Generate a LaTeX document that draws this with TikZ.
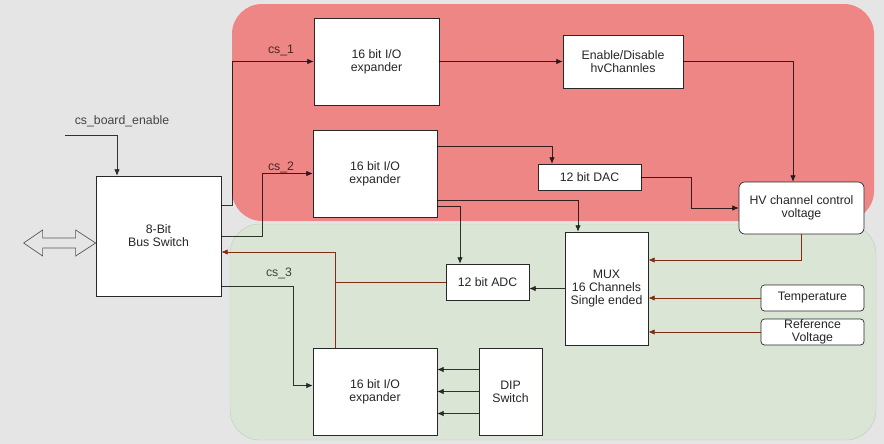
\documentclass[tikz,border=0pt]{standalone}
\usepackage{fontspec}
\setmainfont{Liberation Sans}
\usetikzlibrary{arrows.meta,positioning,calc}
\definecolor{bggray}{RGB}{229,229,229}
\definecolor{hvred}{RGB}{239,134,134}
\definecolor{lvgreen}{RGB}{219,229,214}
\definecolor{lvedge}{RGB}{190,208,184}
\definecolor{rdbrown}{RGB}{128,46,16}
\definecolor{boxedge}{RGB}{40,40,40}
\tikzset{
  blk/.style={draw=boxedge, fill=white, line width=0.6pt, inner sep=0pt, align=center,
              text=black!85, font=\fontsize{10.5}{11}\selectfont},
  wire/.style={-{Latex[length=1.9mm,width=1.6mm]}, black, opacity=0.78, line width=0.5pt},
  rdwire/.style={-{Latex[length=1.9mm,width=1.6mm]}, rdbrown, line width=0.6pt},
  rdline/.style={rdbrown, line width=0.6pt},
  sig/.style={text=black, text opacity=0.7, font=\fontsize{10.5}{11}\selectfont},
}

\begin{document}
\begin{tikzpicture}[x=0.03cm,y=-0.03cm]
  \fill[bggray] (0,0) rectangle (884,444);
  \useasboundingbox (0,0) rectangle (884,444);
  % supply areas
  \fill[hvred, rounded corners=0.9cm] (232,4) rectangle (874,221);
  \filldraw[fill=lvgreen, draw=lvedge, rounded corners=0.9cm] (230,224) rectangle (876,440);

  % blocks
  \node[blk, minimum width=3.75cm, minimum height=3.6cm] (bus) at (158.5,236) {8-Bit\\Bus Switch};
  \node[blk, minimum width=3.75cm, minimum height=2.61cm] (exp1) at (376.5,61.5) {16 bit I/O\\expander};
  \node[blk, minimum width=3.72cm, minimum height=2.61cm] (exp2) at (375,173.5) {16 bit I/O\\expander};
  \node[blk, minimum width=3.72cm, minimum height=2.61cm] (exp3) at (375,391.5) {16 bit I/O\\expander};
  \node[blk, minimum width=3.6cm, minimum height=1.59cm] (endis) at (623,61.5) {Enable/Disable\\hvChannles};
  \node[blk, minimum width=3.09cm, minimum height=0.78cm] (dac) at (589.5,177) {12 bit DAC};
  \node[blk, rounded corners=5pt, minimum width=3.75cm, minimum height=1.56cm] (hv) at (801.5,208) {HV channel control\\voltage};
  \node[blk, minimum width=2.49cm, minimum height=3.39cm] (mux) at (606.5,288.5) {MUX\\16 Channels\\Single ended};
  \node[blk, rounded corners=3pt, minimum width=3.09cm, minimum height=0.78cm] (temp) at (812.5,298) {Temperature};
  \node[blk, rounded corners=3pt, minimum width=3.09cm, minimum height=0.78cm] (vref) at (812.5,332) {Reference\\Voltage};
  \node[blk, minimum width=2.49cm, minimum height=1.08cm] (adc) at (487.5,282) {12 bit ADC};
  \node[blk, minimum width=1.89cm, minimum height=2.61cm] (dip) at (510.5,391.5) {DIP\\Switch};

  % bus side
  \draw[black!65, line width=0.6pt, shift={(bus.west)}]
    (0,7) -- (-20,-6) -- (-20,2) -- (-53,2) -- (-53,-6) -- (-72,7)
    -- (-53,20) -- (-53,12) -- (-20,12) -- (-20,20) -- cycle;
  \coordinate (cbe) at (65,135);
  \node[sig] (lcbe) at (122,121) {cs\_board\_enable};
  \draw[wire] (cbe) -| ([xshift=-1.245cm]bus.north);

  % chip selects
  \draw[wire] ([yshift=0.93cm]bus.east) -- ++(11,0) |- (exp1.west);
  \node[sig] (lcs1) at (281,50) {cs\_1};
  \draw[wire] (bus.east) -- ++(41,0) |- (exp2.west);
  \node[sig] (lcs2) at (281,167) {cs\_2};
  \draw[wire] ([yshift=-1.5cm]bus.east) -- ++(72,0) |- ([yshift=0.18cm]exp3.west);
  \node[sig] (lcs3) at (279,273) {cs\_3};

  % high voltage side
  \draw[wire] (exp1.east) -- (endis.west);
  \draw[wire] (endis.east) -| ([xshift=-0.255cm]hv.north);
  \draw[wire] ([yshift=0.825cm]exp2.east) -| ([xshift=-1.125cm]dac.north);
  \draw[wire] (dac.east) -- ++(50,0) |- (hv.west);
  \draw[wire] ([yshift=-0.795cm]exp2.east) -| ([xshift=-0.855cm]mux.north);
  \draw[wire] ([yshift=-0.975cm]exp2.east) -| ([xshift=-0.825cm]adc.north);

  % readback
  \draw[wire] (mux.west) -- (mux.west -| adc.east);
  \draw[rdwire] (hv.south) |- ([yshift=0.855cm]mux.east);
  \draw[rdwire] (temp.west) -- (temp.west -| mux.east);
  \draw[rdwire] (vref.west) -- (vref.west -| mux.east);
  \coordinate (jn) at ([xshift=-1.2cm]exp3.north);
  \draw[rdwire] (jn) |- ([yshift=-0.48cm]bus.east);
  \draw[rdline] (adc.west) -- (adc.west -| jn);

  % dip switch
  \foreach \dy in {0.66,0,-0.66}{
    \draw[wire] ([yshift=\dy cm]dip.west) -- ([yshift=\dy cm]exp3.east);}
\end{tikzpicture}
\end{document}
